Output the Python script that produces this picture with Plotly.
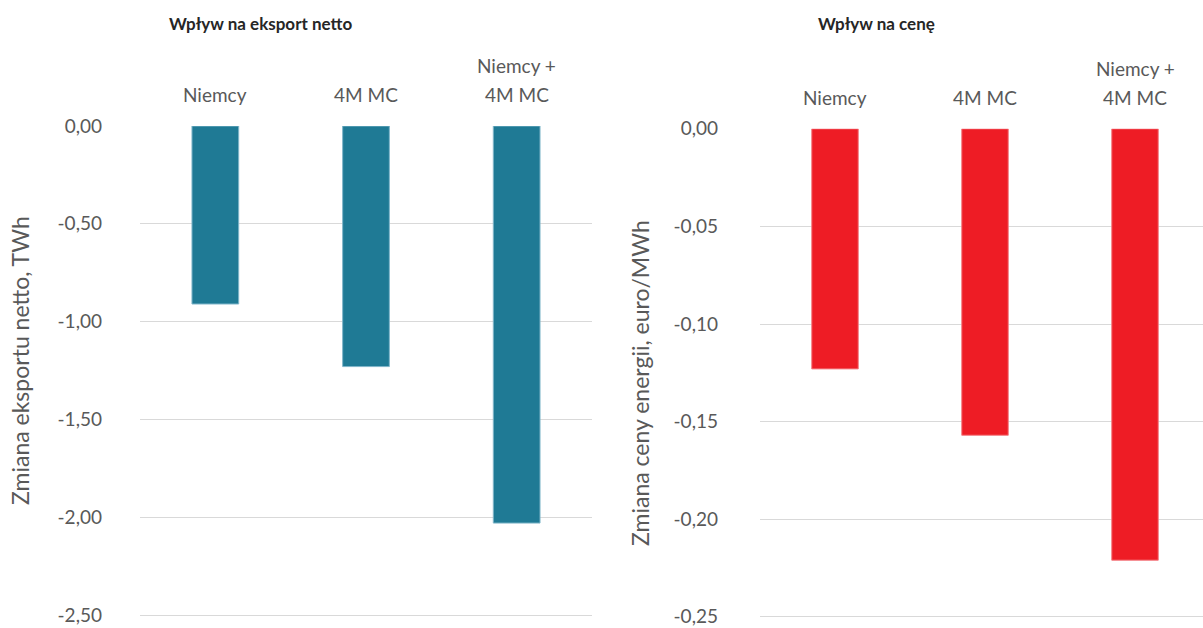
import plotly.graph_objects as go

# Scenario categories (second line of the combined case after <br>)
categories = ["Niemcy", "4M MC", "Niemcy +<br>4M MC"]

# Change in net export, TWh
export_change = [-0.91, -1.23, -2.03]
# Change in energy price, euro/MWh
price_change = [-0.123, -0.157, -0.221]

export_ticks = [0.0, -0.5, -1.0, -1.5, -2.0, -2.5]
price_ticks = [0.0, -0.05, -0.10, -0.15, -0.20, -0.25]

W, H = 1203, 628
FONT = "Lato"
GREY = "#595959"
GRID = "#D9D9D9"
TEAL = "#1F7A95"
RED = "#EE1C25"


def fmt(v, d):
    return f"{v:.{d}f}".replace(".", ",")


fig = go.Figure()
fig.add_trace(go.Bar(x=categories, y=export_change, xaxis="x", yaxis="y",
                     marker=dict(color=TEAL, line=dict(color="#7FB5C9", width=1)),
                     width=0.31, showlegend=False))
fig.add_trace(go.Bar(x=categories, y=price_change, xaxis="x2", yaxis="y2",
                     marker=dict(color=RED, line=dict(color="#F47C82", width=1)),
                     width=0.31, showlegend=False))

tickfont = dict(family=FONT, size=19, color=GREY)

common_x = dict(showgrid=False, showline=False, ticks="", showticklabels=False,
                automargin=False, zeroline=False)
common_y = dict(showgrid=True, gridcolor=GRID, gridwidth=1, zeroline=False,
                showline=False, ticks="", tickfont=tickfont, automargin=False,
                ticklabeloverflow="allow")

# Pixel scales of the two panels (px per unit) and their zero lines
s1, top1 = 195.6, 126.0
s2, top2 = 1952.0, 128.8
pad1, pad2 = 0.02, 0.002   # a little room below the last gridline

fig.update_layout(
    width=W, height=H,
    margin=dict(l=0, r=0, t=0, b=0, pad=0, autoexpand=False),
    paper_bgcolor="white", plot_bgcolor="white",
    xaxis=dict(domain=[140 / W, 592 / W], anchor="y", range=[-0.5, 2.5], **common_x),
    yaxis=dict(domain=[1 - (top1 + (2.5 + pad1) * s1) / H, 1 - top1 / H], anchor="x",
               range=[-2.5 - pad1, 0], tickvals=export_ticks,
               ticktext=[fmt(v, 2) for v in export_ticks],
               ticklabelstandoff=37, **common_y),
    xaxis2=dict(domain=[760 / W, 1.0], anchor="y2",
                range=[-0.5, -0.5 + 443 / 150], **common_x),
    yaxis2=dict(domain=[1 - (top2 + (0.25 + pad2) * s2) / H, 1 - top2 / H], anchor="x2",
                range=[-0.25 - pad2, 0], tickvals=price_ticks,
                ticktext=[fmt(v, 2) for v in price_ticks],
                ticklabelstandoff=41, **common_y),
)

annotations = [
    dict(text="<b>Wpływ na eksport netto</b>", x=260 / W, y=1 - 23 / H,
         xref="paper", yref="paper", xanchor="center", yanchor="middle",
         showarrow=False, font=dict(family=FONT, size=17, color="#262626")),
    dict(text="<b>Wpływ na cenę</b>", x=876 / W, y=1 - 23 / H,
         xref="paper", yref="paper", xanchor="center", yanchor="middle",
         showarrow=False, font=dict(family=FONT, size=17, color="#262626")),
    dict(text="Zmiana eksportu netto, TWh", x=20 / W, y=1 - 361 / H,
         xref="paper", yref="paper", xanchor="center", yanchor="middle",
         showarrow=False, textangle=-90,
         font=dict(family=FONT, size=23, color=GREY)),
    dict(text="Zmiana ceny energii, euro/MWh", x=640 / W, y=1 - 383 / H,
         xref="paper", yref="paper", xanchor="center", yanchor="middle",
         showarrow=False, textangle=-90,
         font=dict(family=FONT, size=23, color=GREY)),
]

# Category labels above each panel, one line per annotation
for xa, ya, base in (("x", "y", 32), ("x2", "y2", 31)):
    for cat in categories:
        lines = cat.split("<br>")
        for k, line in enumerate(reversed(lines)):
            annotations.append(dict(
                text=line, x=cat, xref=xa, y=1, yref=f"{ya} domain",
                xanchor="center", yanchor="middle", yshift=base + 29 * k,
                showarrow=False, font=tickfont))

fig.update_layout(annotations=annotations)

fig.write_html("out.html")
